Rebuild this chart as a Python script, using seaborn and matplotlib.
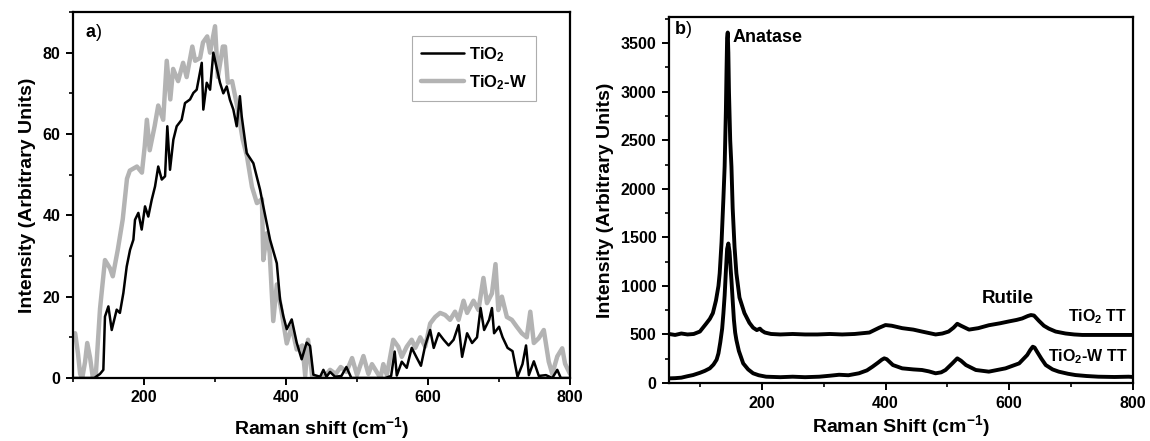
import numpy as np
import pandas as pd
import matplotlib
matplotlib.use("Agg")
import matplotlib.pyplot as plt
from matplotlib.ticker import MultipleLocator
import seaborn as sns

# ---------------- data: panel a ----------------
tio2_x = [100, 110, 120, 130, 134, 138, 142.7, 145, 149.8, 154.5, 161.5, 166, 170.9, 175.6,
          180.3, 185, 187.3, 192, 196.7, 201.4, 206, 210.8, 215.5, 220, 225, 229.6, 232.8,
          236.6, 241.3, 246, 253, 257.7, 264.8, 269.5, 274.2, 281.3, 283.5, 288.3, 293, 297.6,
          307, 311.7, 316.5, 321, 325.8, 330.5, 335, 337.6, 344.6, 354, 363.4, 368, 377.5, 387,
          391.5, 396.2, 401, 408, 415, 422, 429, 433.8, 438.5, 448, 452.6, 457, 462, 469, 478,
          485, 492, 500, 520, 540, 548, 553, 556, 563, 570, 577, 584, 590, 596, 603, 608, 615,
          622, 629, 636, 643, 648, 655, 662, 669, 674, 679, 686, 690, 693, 700, 705, 712, 719,
          726, 733, 738, 742, 749, 756, 766, 775, 782, 787, 800]
tio2_y = [0, 0, 0, 0, 0.5, 1, 2, 15.1, 17.6, 11.8, 16.8, 16, 20.9, 27.4,
          31.5, 34, 38.9, 40.6, 36.5, 42.2, 39.7, 43.8, 47.1, 52, 48.8, 49.6, 61.9,
          51.2, 58.6, 61.9, 63.5, 67.6, 68.5, 70.1, 70.9, 77.5, 66, 72.6, 70.9, 80,
          72.6, 70, 71.7, 68.4, 66, 61.9, 69.3, 64.3, 55.3, 52.8, 46.3, 42.2, 34, 28.2,
          19.3, 15.2, 12, 14.4, 8.7, 4.6, 8.7, 7.9, 0.8, 0.3, 2, 0.3, 1.5, 0.3, 0.5,
          2.7, 0, 0, 0, 0, 0.5, 6.5, 0.6, 4, 2.5, 7.4, 5, 3, 8, 11.8, 7.4, 11,
          9.4, 8, 9.4, 13, 5.2, 11, 8.6, 10, 17.2, 11.8, 14.3, 17.2, 11, 12.6, 10, 7.4, 6.6,
          0.3, 3.4, 8, 0.7, 4.1, 0.5, 0.7, 0, 2, 0, 0]

tio2w_x = [100, 103, 107, 110, 113, 117, 120, 124, 128, 132, 134, 138, 145, 152, 156, 163,
           170, 176, 180, 190, 197, 201, 204, 208, 215, 220, 227, 232, 237, 241, 248, 255,
           260, 268, 272, 279, 283, 289, 293, 300, 304, 311, 314, 318, 324, 331, 339, 345,
           352, 359, 366, 368, 373, 377, 382, 387, 394, 401, 408, 415, 423, 427, 431, 437,
           445, 455, 462, 470, 477, 485, 493, 500, 509, 516, 521, 533, 537, 542, 551, 558,
           563, 570, 577, 582, 589, 596, 603, 610, 617, 624, 631, 638, 643, 650, 655, 664,
           671, 678, 683, 690, 695, 699, 704, 711, 718, 725, 732, 739, 744, 749, 756, 763,
           770, 775, 782, 789, 793, 798, 800]
tio2w_y = [10, 11, 6, 1, 0, 4, 8.6, 5, 0, 0.5, 6, 17, 29, 27, 25, 31.5,
           39, 49, 51, 52, 50.5, 57, 63.5, 56, 62, 67, 63.5, 78, 68.5, 76, 73, 77.5,
           74, 81.5, 78, 78.7, 82.5, 84, 80, 86.5, 74, 81.5, 81.5, 72.6, 73, 67, 58.6, 54.5,
           47, 43, 44, 29, 35.6, 30.7, 14, 23, 16, 8.5, 12.6, 7, 8, 0.5, 9.4, 0,
           0, 0.5, 2, 1, 2.7, 1.5, 4.9, 0.7, 5.4, 1, 3.4, 0, 3.4, 0.7, 9.4, 7.7,
           5.2, 7.7, 9.4, 7.4, 10, 7.7, 13.4, 15, 16, 15.5, 14.3, 16.3, 14.3, 19, 16, 19,
           16.7, 24.6, 18.4, 20.8, 28, 16.7, 20, 15, 14.3, 12.6, 11, 10, 16.3, 8.6, 9.8, 11.8,
           4, 1, 5.3, 7.3, 3.5, 1.7, 1]

# ---------------- data: panel b ----------------
tt_x = [50, 60, 70, 80, 90, 100, 110, 116, 121, 126, 130, 132, 135, 138, 140, 142, 143, 144,
        145, 146, 147, 149, 151, 153, 156, 159, 164, 172, 180, 186, 192, 197, 200, 205, 215,
        230, 250, 270, 290, 310, 330, 350, 374, 390, 400, 410, 427, 445, 459, 470, 481, 492,
        502, 510, 516, 522, 535, 550, 567, 585, 600, 612, 621, 630, 635, 640, 648, 656, 664,
        675, 691, 705, 718, 740, 771, 800]
tt_y = [505, 495, 510, 500, 505, 530, 610, 660, 720, 850, 1000, 1130, 1450, 1900, 2230, 2800,
        3200, 3550, 3610, 3400, 3000, 2500, 2230, 1800, 1400, 1130, 880, 720, 620, 570, 545,
        560, 540, 520, 505, 500, 505, 500, 500, 505, 500, 505, 520, 570, 597, 590, 565, 550,
        530, 515, 500, 510, 530, 570, 610, 590, 550, 565, 595, 615, 635, 650, 665, 690, 700,
        695, 640, 590, 560, 530, 510, 500, 495, 495, 495, 495]

wtt_x = [50, 60, 70, 80, 89, 100, 108, 116, 122, 127, 130, 133, 136, 138, 140, 142, 144, 146,
         148, 150, 151, 153, 155, 157, 159, 163, 170, 178, 186, 195, 207, 230, 250, 270, 293,
         310, 325, 340, 357, 370, 379, 388, 394, 398, 402, 412, 427, 445, 459, 470, 481, 490,
         497, 508, 516, 522, 530, 546, 567, 594, 616, 629, 634, 638, 641, 645, 652, 659, 670,
         680, 695, 707, 725, 744, 770, 793, 800]
wtt_y = [48, 50, 55, 70, 82, 105, 125, 151, 190, 240, 305, 420, 560, 717, 900, 1150, 1380, 1437,
         1350, 1150, 1060, 850, 650, 520, 443, 330, 202, 140, 100, 80, 65, 60, 65, 60, 65,
         75, 85, 80, 100, 130, 168, 210, 240, 254, 245, 185, 151, 140, 134, 120, 100, 110,
         134, 202, 254, 230, 185, 134, 117, 151, 202, 288, 340, 374, 365, 322, 250, 185, 140,
         117, 95, 82, 72, 65, 62, 65, 62]

# ---------------- styling ----------------
sns.set_style("ticks")
FAM = ["Liberation Sans", "DejaVu Sans"]
plt.rcParams.update({
    "font.family": FAM,
    "font.weight": "bold",
    "axes.labelweight": "bold",
    "axes.linewidth": 1.6,
    "xtick.direction": "out",
    "ytick.direction": "out",
    "text.color": "black",
    "axes.labelcolor": "black",
    "xtick.color": "black",
    "ytick.color": "black",
    "axes.edgecolor": "black",
    "mathtext.fontset": "custom",
    "mathtext.rm": "Liberation Sans:bold",
    "mathtext.it": "Liberation Sans:bold",
    "mathtext.bf": "Liberation Sans:bold",
    "mathtext.default": "rm",
})

fig = plt.figure(figsize=(11.5, 4.41), dpi=100)
ax_a = fig.add_axes([0.0635, 0.1429, 0.4322, 0.8299])
ax_b = fig.add_axes([0.5817, 0.1315, 0.4035, 0.8300])

df_a1 = pd.DataFrame({"x": tio2_x, "y": tio2_y})
df_a2 = pd.DataFrame({"x": tio2w_x, "y": tio2w_y})
sns.lineplot(data=df_a2, x="x", y="y", ax=ax_a, color="#b3b3b3", lw=3.2,
             sort=False, estimator=None, label="TiO$_2$-W", zorder=2)
sns.lineplot(data=df_a1, x="x", y="y", ax=ax_a, color="black", lw=1.8,
             sort=False, estimator=None, label="TiO$_2$", zorder=3)

ax_a.set_xlim(100, 800)
ax_a.set_ylim(0, 90)
ax_a.xaxis.set_major_locator(MultipleLocator(200))
ax_a.xaxis.set_minor_locator(MultipleLocator(100))
ax_a.yaxis.set_major_locator(MultipleLocator(20))
ax_a.yaxis.set_minor_locator(MultipleLocator(10))
ax_a.set_xlabel("Raman shift (cm$^{-1}$)", fontsize=14, fontweight="bold", labelpad=7)
ax_a.set_ylabel("Intensity (Arbitrary Units)", fontsize=14, fontweight="bold", labelpad=5)
ax_a.text(117, 85, "a", fontsize=13, fontweight="bold", va="center", ha="left")
ax_a.text(132, 85, ")", fontsize=13, fontweight="normal", va="center", ha="left")

handles, labels = ax_a.get_legend_handles_labels()
order = [labels.index("TiO$_2$"), labels.index("TiO$_2$-W")]
leg = ax_a.legend([handles[i] for i in order], [labels[i] for i in order],
                  loc="upper right", bbox_to_anchor=(0.932, 0.934), borderaxespad=0,
                  frameon=True, fancybox=False, edgecolor="#999999", handlelength=2.6,
                  prop={"family": FAM, "weight": "bold", "size": 12},
                  borderpad=0.55, labelspacing=0.55, handletextpad=0.3)
leg.get_frame().set_linewidth(0.8)

df_b1 = pd.DataFrame({"x": tt_x, "y": tt_y})
df_b2 = pd.DataFrame({"x": wtt_x, "y": wtt_y})
sns.lineplot(data=df_b1, x="x", y="y", ax=ax_b, color="black", lw=2.8,
             sort=False, estimator=None, legend=False)
sns.lineplot(data=df_b2, x="x", y="y", ax=ax_b, color="black", lw=2.8,
             sort=False, estimator=None, legend=False)
ax_b.set_xlim(50, 800)
ax_b.set_ylim(0, 3770)
ax_b.xaxis.set_major_locator(MultipleLocator(200))
ax_b.xaxis.set_minor_locator(MultipleLocator(100))
ax_b.yaxis.set_major_locator(MultipleLocator(500))
ax_b.yaxis.set_minor_locator(MultipleLocator(250))
ax_b.set_xlabel("Raman Shift (cm$^{-1}$)", fontsize=14, fontweight="bold", labelpad=2)
ax_b.set_ylabel("Intensity (Arbitrary Units)", fontsize=14, fontweight="bold", labelpad=5)
ax_b.text(60, 3640, "b", fontsize=13, fontweight="bold", va="center", ha="left")
ax_b.text(78, 3640, ")", fontsize=13, fontweight="normal", va="center", ha="left")
ax_b.text(152, 3555, "Anatase", fontsize=13, fontweight="bold", va="center", ha="left")
ax_b.text(597, 875, "Rutile", fontsize=13.5, fontweight="bold", va="center", ha="center")
ax_b.text(790, 680, "TiO$_2$ TT", fontsize=11.5, fontweight="bold", va="center", ha="right")
ax_b.text(792, 268, "TiO$_2$-W TT", fontsize=11.5, fontweight="bold", va="center", ha="right")

for ax in (ax_a, ax_b):
    for s in ax.spines.values():
        s.set_visible(True)
        s.set_linewidth(1.6)
        s.set_color("black")
    ax.tick_params(which="major", length=5, width=1.4, labelsize=11.5, pad=4, colors="black")
    ax.tick_params(which="minor", length=3, width=1.2, colors="black")
    for lbl in ax.get_xticklabels() + ax.get_yticklabels():
        lbl.set_fontweight("bold")
        lbl.set_family(FAM)

fig.savefig("out.png", dpi=100)
